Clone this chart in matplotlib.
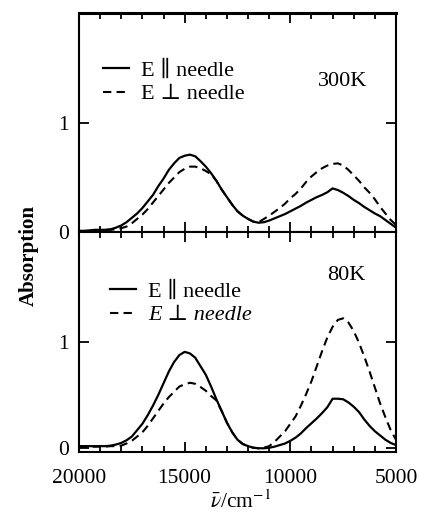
import matplotlib
matplotlib.use("Agg")
import matplotlib.pyplot as plt
from matplotlib.ticker import MultipleLocator

plt.rcParams['font.family'] = ['Liberation Serif', 'DejaVu Serif']
plt.rcParams['mathtext.fontset'] = 'stix'

wavenumber = list(range(20000, 4999, -250))

par_300K = [0.01, 0.01, 0.015, 0.02, 0.02, 0.02, 0.025, 0.04, 0.06, 0.09,
            0.13, 0.17, 0.22, 0.28, 0.34, 0.42, 0.49, 0.57, 0.63, 0.68,
            0.70, 0.71, 0.695, 0.65, 0.60, 0.54, 0.47, 0.39, 0.32, 0.25,
            0.19, 0.15, 0.12, 0.095, 0.085, 0.09, 0.105, 0.125, 0.145, 0.165,
            0.19, 0.215, 0.24, 0.27, 0.295, 0.32, 0.34, 0.365, 0.40, 0.385,
            0.36, 0.33, 0.295, 0.265, 0.23, 0.20, 0.17, 0.145, 0.11, 0.075, 0.04]
perp_300K = [0.01, 0.01, 0.01, 0.015, 0.015, 0.02, 0.02, 0.025, 0.035, 0.05,
             0.08, 0.12, 0.16, 0.21, 0.27, 0.33, 0.39, 0.45, 0.50, 0.55,
             0.58, 0.60, 0.60, 0.585, 0.56, 0.53, 0.47, 0.39, 0.32, 0.25,
             0.19, 0.15, 0.12, 0.095, 0.09, 0.12, 0.15, 0.185, 0.22, 0.26,
             0.31, 0.35, 0.40, 0.46, 0.51, 0.55, 0.585, 0.61, 0.625, 0.63,
             0.61, 0.57, 0.52, 0.47, 0.41, 0.36, 0.30, 0.23, 0.17, 0.11, 0.065]

par_80K = [0.02, 0.02, 0.02, 0.02, 0.02, 0.02, 0.025, 0.035, 0.05, 0.075,
           0.11, 0.17, 0.23, 0.31, 0.40, 0.50, 0.61, 0.72, 0.81, 0.875,
           0.905, 0.89, 0.85, 0.77, 0.69, 0.58, 0.46, 0.35, 0.24, 0.15,
           0.08, 0.04, 0.02, 0.005, 0.0, 0.0, 0.005, 0.015, 0.03, 0.045,
           0.07, 0.10, 0.14, 0.19, 0.235, 0.28, 0.33, 0.385, 0.465, 0.465,
           0.46, 0.43, 0.39, 0.34, 0.27, 0.21, 0.16, 0.12, 0.08, 0.05, 0.03]
perp_80K = [0.01, 0.015, 0.015, 0.015, 0.015, 0.015, 0.02, 0.02, 0.025, 0.045,
            0.07, 0.11, 0.15, 0.21, 0.28, 0.35, 0.42, 0.48, 0.53, 0.58,
            0.60, 0.615, 0.605, 0.575, 0.54, 0.49, 0.45, 0.35, 0.24, 0.15,
            0.08, 0.04, 0.02, 0.005, 0.0, 0.005, 0.02, 0.06, 0.11, 0.16,
            0.23, 0.30, 0.40, 0.51, 0.63, 0.77, 0.91, 1.04, 1.14, 1.205,
            1.22, 1.18, 1.10, 0.99, 0.86, 0.72, 0.57, 0.42, 0.29, 0.17, 0.08]

W, H = 424, 513
fig = plt.figure(figsize=(W / 100, H / 100), dpi=100)
ax1 = fig.add_axes([79 / W, 1 - 232 / H, 317 / W, 219 / H])
ax2 = fig.add_axes([79 / W, 1 - 452 / H, 317 / W, 220 / H])

def style(ax, ylo, yhi):
    ax.set_xlim(20000, 5000)
    ax.set_ylim(ylo, yhi)
    ax.xaxis.set_major_locator(MultipleLocator(5000))
    ax.xaxis.set_minor_locator(MultipleLocator(1000))
    ax.set_yticks([0, 1])
    ax.tick_params(which='both', direction='in', top=True, right=True,
                   labelsize=15.5, width=1.3)
    ax.tick_params(which='major', length=7.5)
    ax.tick_params(which='minor', length=4)
    ax.tick_params(axis='x', pad=12)
    ax.tick_params(axis='y', pad=7)
    for s in ax.spines.values():
        s.set_linewidth(1.5)

style(ax1, 0, 2.01)
style(ax2, -0.035, 2.03)
ax1.tick_params(labelbottom=False)
ax1.spines['top'].set_linewidth(2.2)

dash = (4, 2.5)
ax1.plot(wavenumber, par_300K, 'k-', lw=1.6, label='E \u2225 needle')
ax1.plot(wavenumber, perp_300K, 'k--', lw=1.5, dashes=dash, label='E \u22a5 needle')
ax2.plot(wavenumber, par_80K, 'k-', lw=1.6, label='E \u2225 needle')
ax2.plot(wavenumber, perp_80K, 'k--', lw=1.5, dashes=dash, label='E \u22a5 needle')

leg_kw = dict(loc='upper left', frameon=False, fontsize=16, handlelength=1.15,
              handletextpad=0.55, labelspacing=0.15, borderaxespad=0, borderpad=0,
              bbox_transform=fig.transFigure)
ax1.legend(bbox_to_anchor=(103 / W, 1 - 60 / H), **leg_kw)
leg2 = ax2.legend(bbox_to_anchor=(110 / W, 1 - 281 / H), **leg_kw)
leg2.get_texts()[1].set_style('italic')

fig.text(343 / W, 1 - 82 / H, '300K', fontsize=16, ha='center', va='center')
fig.text(346 / W, 1 - 276 / H, '80K', fontsize=16, ha='center', va='center')

fig.text(29 / W, 1 - 256 / H, 'Absorption', rotation=90, ha='center', va='center',
         fontsize=15, fontweight='bold')
fig.text(241 / W, 0.5 / H, r'$\bar{\nu}$/cm$^{-1}$', fontsize=15.5,
         ha='center', va='bottom')

fig.savefig('out.png', dpi=100)
